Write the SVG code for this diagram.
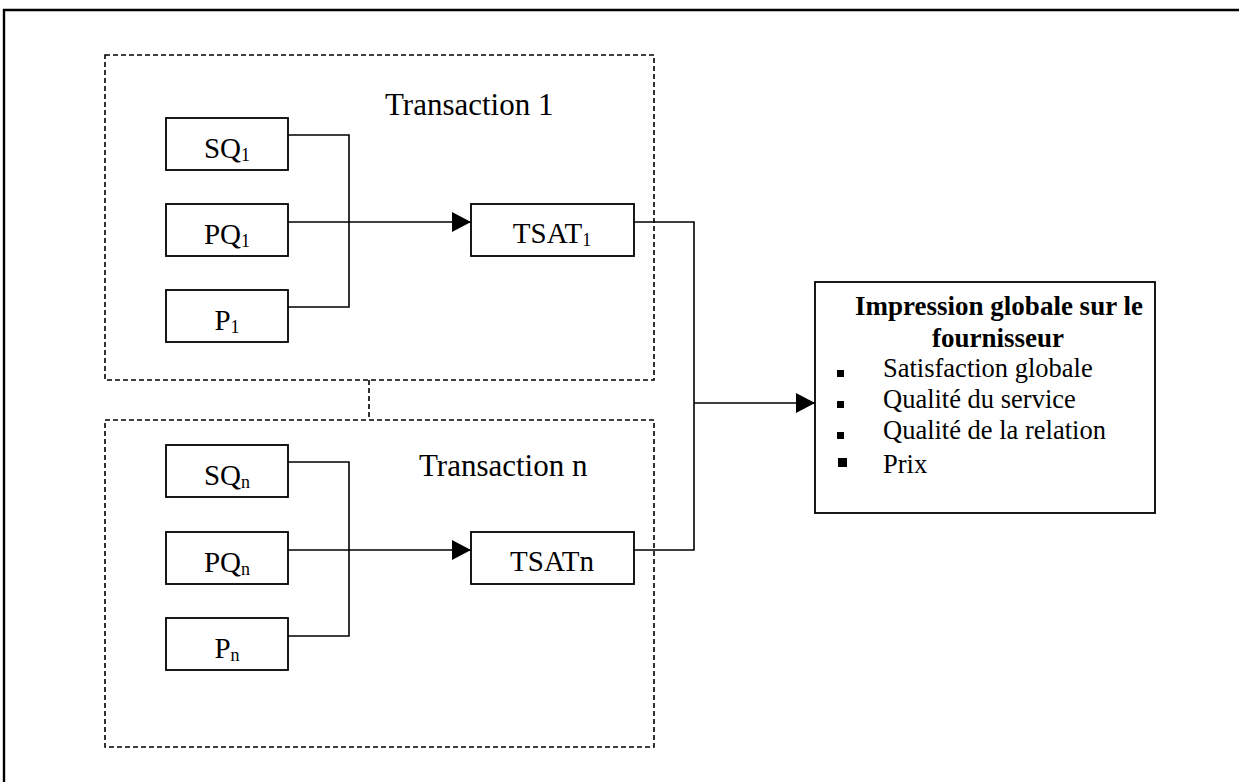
<svg xmlns="http://www.w3.org/2000/svg" width="1239" height="782" viewBox="0 0 1239 782">
<style>
text{font-family:"Liberation Serif","Times New Roman",serif;fill:#000}
.lbl{font-size:29px;text-anchor:middle}
.sub{font-size:18px}
.tr{font-size:31px}
.box{fill:#fff;stroke:#000;stroke-width:1.8}
.dash{fill:none;stroke:#000;stroke-width:1.6;stroke-dasharray:5 3}
.con{fill:none;stroke:#000;stroke-width:1.6}
.body{font-size:26.5px}
.title{font-size:27px;font-weight:bold;text-anchor:middle}
</style>
<defs>
<marker id="ah" markerUnits="userSpaceOnUse" markerWidth="20" markerHeight="20" refX="19" refY="10" orient="auto">
<path d="M0,0 L19,10 L0,20 z" fill="#000"/>
</marker>
</defs>
<rect width="1239" height="782" fill="#fff"/>
<path id="frame" d="M4,800 V10 H1260" fill="none" stroke="#000" stroke-width="2.4"/>

<g id="transaction1">
<rect class="dash" x="105" y="55" width="549" height="325"/>
<text class="tr" x="385" y="115">Transaction 1</text>
</g>
<g id="transactionn">
<rect class="dash" x="105" y="420" width="549" height="327"/>
<text class="tr" x="419" y="476">Transaction n</text>
</g>

<g id="connectors">
<path class="dash" d="M369,380 V420"/>
<path class="con" d="M288,135 H349 V307 H288"/>
<path class="con" d="M288,222 H471" marker-end="url(#ah)"/>
<path class="con" d="M288,462 H349 V636 H288"/>
<path class="con" d="M288,550 H471" marker-end="url(#ah)"/>
<path class="con" d="M634,222 H694 V550 H634"/>
<path class="con" d="M694,403 H815" marker-end="url(#ah)"/>
</g>

<g id="SQ1"><rect class="box" x="166" y="118" width="122" height="52"/><text class="lbl" x="227" y="158">SQ<tspan class="sub" dy="3">1</tspan></text></g>
<g id="PQ1"><rect class="box" x="166" y="204" width="122" height="52"/><text class="lbl" x="227" y="244">PQ<tspan class="sub" dy="3">1</tspan></text></g>
<g id="P1"><rect class="box" x="166" y="290" width="122" height="52"/><text class="lbl" x="227" y="330">P<tspan class="sub" dy="3">1</tspan></text></g>
<g id="TSAT1"><rect class="box" x="471" y="204" width="163" height="52"/><text class="lbl" x="552" y="243">TSAT<tspan class="sub" dy="3">1</tspan></text></g>

<g id="SQn"><rect class="box" x="166" y="445" width="122" height="52"/><text class="lbl" x="227" y="485">SQ<tspan class="sub" dy="3">n</tspan></text></g>
<g id="PQn"><rect class="box" x="166" y="532" width="122" height="52"/><text class="lbl" x="227" y="572">PQ<tspan class="sub" dy="3">n</tspan></text></g>
<g id="Pn"><rect class="box" x="166" y="618" width="122" height="52"/><text class="lbl" x="227" y="658">P<tspan class="sub" dy="3">n</tspan></text></g>
<g id="TSATn"><rect class="box" x="471" y="532" width="163" height="52"/><text class="lbl" x="552" y="571">TSATn</text></g>

<g id="impression">
<rect class="box" x="815" y="282" width="340" height="231"/>
<text class="title" x="999" y="315">Impression globale sur le</text>
<text class="title" x="998" y="347">fournisseur</text>
<rect x="837" y="370" width="7" height="7"/>
<text class="body" x="883" y="377">Satisfaction globale</text>
<rect x="837" y="401" width="7" height="7"/>
<text class="body" x="883" y="408">Qualité du service</text>
<rect x="837" y="432" width="7" height="7"/>
<text class="body" x="883" y="439">Qualité de la relation</text>
<rect x="838" y="458" width="9" height="9"/>
<text class="body" x="883" y="473">Prix</text>
</g>
</svg>
